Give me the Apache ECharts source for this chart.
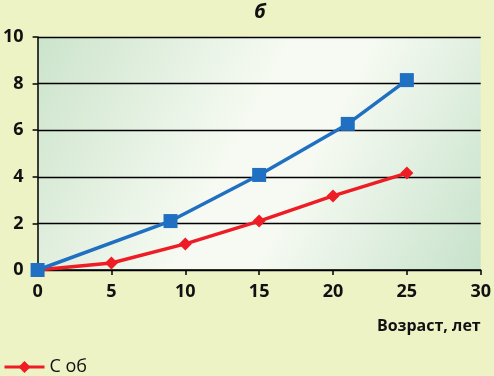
<!DOCTYPE html>
<html><head><meta charset="utf-8">
<script src="https://cdn.jsdelivr.net/npm/echarts@6/dist/echarts.min.js"></script>
<style>html,body{margin:0;padding:0;background:#eef3c6}#c{width:494px;height:376px}</style>
</head><body><div id="c"></div>
<script>
const title = 'б';
const xAxisName = 'Возраст, лет';
const blueName = 'С общ';
const redName = 'С об';
const blueX = [0, 9, 15, 21, 25];
const blueY = [0, 2.1, 4.08, 6.27, 8.15];
const redX = [0, 5, 10, 15, 20, 25];
const redY = [0, 0.3, 1.12, 2.1, 3.18, 4.16];

const chart = echarts.init(document.getElementById('c'));
const font = 'Open Sans';
chart.setOption({
  backgroundColor: '#eef3c6',
  animation: false,
  title: { text: title, left: 249, top: -3, textStyle: { fontFamily: 'Open Sans', fontStyle: 'italic', fontWeight: 'bold', fontSize: 20, color: '#111' } },
  legend: {
    data: [redName], left: -2, top: 353, itemWidth: 40, itemHeight: 15, itemGap: 10,
    lineStyle: { width: 3 },
    textStyle: { fontFamily: font, fontSize: 18, color: '#111' }
  },
  grid: {
    left: 37, right: 13, top: 37, bottom: 106, show: true, borderWidth: 0,
    backgroundColor: new echarts.graphic.LinearGradient(0, 0, 1, 1, [
      { offset: 0, color: '#cce4cb' }, { offset: 0.45, color: '#f6faf2' }, { offset: 0.6, color: '#f6faf2' }, { offset: 1, color: '#c7e2cb' }
    ])
  },
  xAxis: {
    type: 'value', min: 0, max: 30, interval: 5,
    name: xAxisName, nameLocation: 'end', nameGap: 0,
    nameTextStyle: { fontFamily: font, fontWeight: 'bold', fontSize: 16, color: '#111', align: 'right', verticalAlign: 'top', padding: [48, 0, 0, 0] },
    axisLine: { lineStyle: { color: '#000', width: 1.5 } },
    axisTick: { show: true, length: 5, inside: false, lineStyle: { color: '#000', width: 1.5 } },
    axisLabel: { fontFamily: font, fontWeight: 'bold', fontSize: 18, color: '#111', margin: 13 },
    splitLine: { show: false }
  },
  yAxis: {
    type: 'value', min: 0, max: 10, interval: 2,
    axisLine: { show: true, lineStyle: { color: '#000', width: 1.5 } },
    axisTick: { show: true, length: 5, lineStyle: { color: '#000', width: 1.5 } },
    axisLabel: { fontFamily: font, fontWeight: 'bold', fontSize: 18, color: '#111', margin: 14 },
    splitLine: { show: true, lineStyle: { color: '#000', width: 1.4 } }
  },
  series: [
    {
      name: blueName, type: 'line', data: blueX.map((x, i) => [x, blueY[i]]),
      symbol: 'rect', symbolSize: 14, color: '#1f6fc2',
      lineStyle: { width: 3.5, color: '#1f6fc2' }, itemStyle: { color: '#1f6fc2' }, z: 3
    },
    {
      name: redName, type: 'line', data: redX.map((x, i) => [x, redY[i]]),
      symbol: 'diamond', symbolSize: 13, color: '#ee1c25',
      lineStyle: { width: 3.5, color: '#ee1c25' }, itemStyle: { color: '#ee1c25' }, z: 2
    }
  ]
});
</script></body></html>
